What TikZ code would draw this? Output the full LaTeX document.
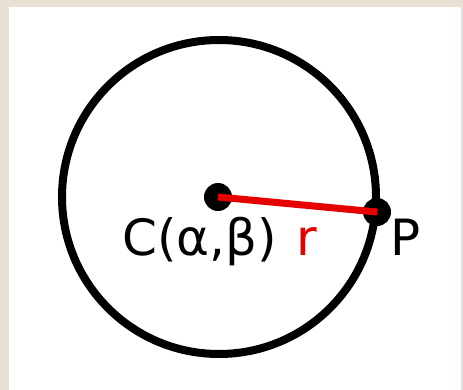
\documentclass[tikz,border=0pt]{standalone}
\usepackage{fontspec}
\setmainfont{DejaVu Sans}
\begin{document}
\begin{tikzpicture}[x=1pt,y=-1pt,
  bgbeige/.style={fill={rgb,255:red,232;green,224;blue,210}},
  ring/.style={circle,draw=black,line width=8pt,minimum size=314pt,inner sep=0pt,outer sep=0pt},
  dotnode/.style={circle,fill=black,minimum size=28pt,inner sep=0pt},
  radius line/.style={draw={rgb,255:red,230;green,0;blue,0},line width=7pt},
  lbl/.style={inner sep=0pt,anchor=base west,font=\fontsize{50}{54}\selectfont}]
\useasboundingbox (0,0) rectangle (463,390);
\fill[bgbeige] (0,0) rectangle (463,390);
\fill[white] (9,7) rectangle (461,390);
\node[ring] (circ) at (219,197) {};
\node[dotnode] (C) at (218,197) {};
\node[dotnode] (P) at (377,212) {};
\draw[radius line] (C.center) -- (P.center);
\node[lbl] (Clabel) at (122,255) {C(α,β)};
\node[lbl,text={rgb,255:red,230;green,0;blue,0}] (rlabel) at (296,255) {r};
\node[lbl] (Plabel) at (390,255) {P};
\end{tikzpicture}
\end{document}
